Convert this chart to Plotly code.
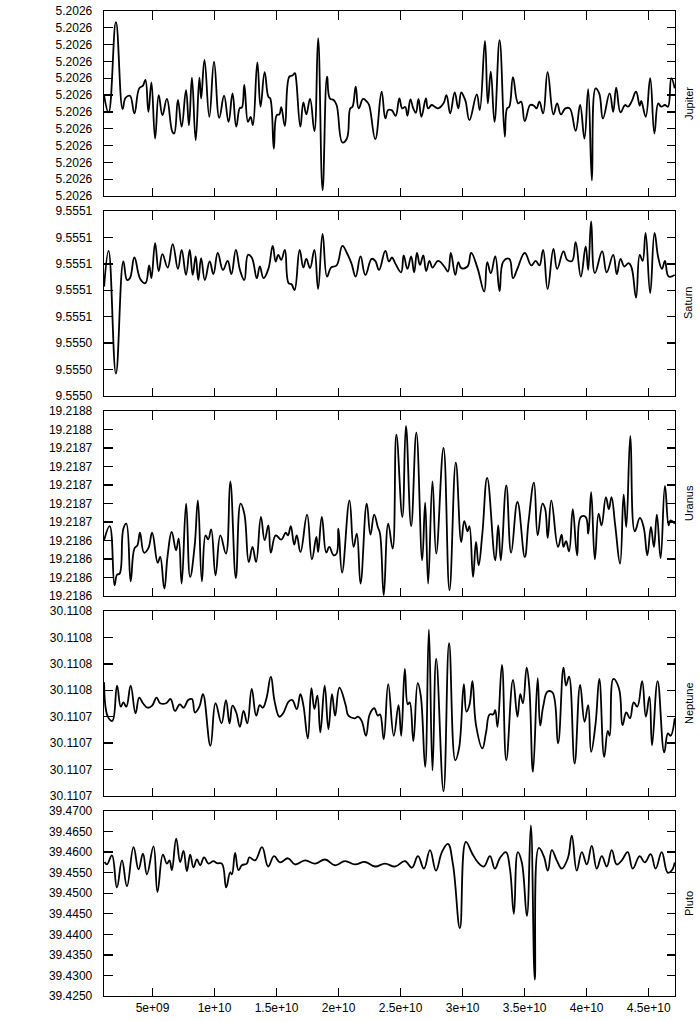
import numpy as np
import plotly.graph_objects as go

# time axis in units of 1e9 (seconds)
# Jupiter: (t [1e9], offset from 5.202595 AU in 1e-6 AU)
jupiter_points = [
    (1.10, 5.96), (1.46, 4.97), (2.05, 10.34), (2.59, 5.17), (2.83, 5.84), (3.18, 5.96), (3.54, 4.91),
    (3.93, 6.40), (4.23, 6.56), (4.43, 6.90), (4.67, 5.01), (4.91, 6.76), (5.21, 3.42), (5.50, 6.00),
    (5.80, 4.81), (6.16, 5.77), (6.60, 3.82), (6.75, 3.72), (7.05, 5.71), (7.35, 4.12), (7.70, 6.30),
    (7.94, 4.21), (8.18, 7.04), (8.48, 3.32), (8.78, 7.04), (8.92, 5.80), (9.19, 8.09), (9.58, 4.71),
    (9.96, 7.99), (10.38, 4.65), (10.77, 5.96), (11.13, 4.41), (11.45, 6.10), (11.75, 4.12), (12.05, 5.25),
    (12.20, 5.25), (12.40, 6.60), (12.70, 4.41), (12.91, 4.71), (13.09, 4.21), (13.45, 7.95), (13.71, 5.31),
    (14.04, 7.36), (14.34, 5.90), (14.49, 5.80), (14.78, 2.82), (15.02, 4.81), (15.23, 4.85), (15.38, 5.29),
    (15.67, 4.17), (16.03, 7.10), (16.27, 7.16), (16.48, 7.30), (16.57, 7.00), (16.92, 4.12), (17.16, 5.57),
    (17.40, 4.85), (17.70, 5.77), (18.05, 3.86), (18.35, 9.38), (18.71, 0.34), (19.07, 7.10), (19.30, 5.80),
    (19.60, 5.71), (19.84, 5.41), (20.31, 3.18), (20.67, 3.42), (20.94, 5.21), (21.12, 5.31), (21.38, 6.50),
    (21.62, 5.21), (21.98, 5.77), (22.28, 5.61), (22.46, 5.41), (22.96, 3.38), (23.47, 6.20), (23.77, 4.61),
    (24.00, 5.11), (24.30, 5.09), (24.60, 4.77), (24.90, 5.80), (25.13, 5.21), (25.37, 5.29), (25.55, 4.77),
    (25.79, 5.75), (26.02, 5.21), (26.23, 4.95), (26.44, 5.77), (26.68, 4.71), (27.04, 5.80), (27.21, 5.21),
    (27.51, 5.41), (27.75, 5.31), (28.02, 5.21), (28.46, 5.51), (28.70, 6.00), (29.00, 4.91), (29.36, 6.16),
    (29.65, 5.21), (29.89, 6.16), (30.10, 5.90), (30.25, 5.61), (30.55, 4.51), (31.14, 6.04), (31.38, 5.11),
    (31.80, 9.22), (32.03, 5.51), (32.27, 7.40), (32.57, 4.41), (32.98, 9.26), (33.40, 3.52), (33.58, 5.21),
    (33.76, 5.31), (34.06, 7.06), (34.47, 5.51), (34.71, 5.61), (35.01, 4.45), (35.45, 5.41), (35.75, 5.37),
    (35.96, 5.21), (36.19, 5.61), (36.49, 4.91), (36.85, 7.36), (37.32, 4.85), (37.62, 5.51), (37.92, 4.85),
    (38.28, 5.21), (38.63, 5.21), (39.11, 3.88), (39.47, 5.41), (39.82, 3.42), (40.12, 6.36), (40.42, 0.93),
    (40.72, 6.40), (41.01, 6.10), (41.31, 4.61), (41.85, 6.10), (42.14, 5.01), (42.38, 6.44), (42.73, 4.97),
    (43.09, 5.41), (43.33, 5.31), (43.62, 5.61), (43.98, 6.20), (44.28, 5.37), (44.40, 5.65), (44.76, 4.71),
    (45.12, 7.00), (45.46, 3.72), (45.77, 5.51), (46.00, 5.31), (46.31, 5.41), (46.55, 5.31), (46.82, 7.00),
    (47.10, 6.40),
]

# Saturn: offset from 9.5550 AU in units of 2e-5 AU
saturn_points = [
    (1.10, 4.14), (1.46, 5.49), (2.05, 0.85), (2.65, 5.09), (2.95, 4.39), (3.18, 4.46), (3.54, 5.24),
    (4.02, 4.42), (4.43, 4.27), (4.73, 4.94), (4.91, 4.46), (5.21, 5.78), (5.50, 4.73), (5.80, 5.37),
    (6.22, 4.86), (6.63, 5.75), (7.05, 4.81), (7.35, 5.53), (7.70, 4.58), (8.00, 5.53), (8.24, 4.58),
    (8.48, 5.28), (8.69, 4.39), (8.92, 5.22), (9.22, 4.39), (9.61, 5.09), (9.91, 4.61), (10.26, 5.41),
    (10.68, 4.77), (11.06, 5.11), (11.36, 4.61), (11.72, 5.53), (12.05, 4.77), (12.40, 4.39), (12.70, 5.34),
    (13.00, 5.24), (13.41, 4.46), (13.65, 4.90), (13.95, 4.46), (14.34, 4.81), (14.69, 5.68), (14.93, 5.09),
    (15.14, 5.34), (15.38, 5.15), (15.67, 5.53), (15.97, 4.27), (16.21, 4.23), (16.45, 4.01), (16.86, 5.53),
    (17.16, 4.86), (17.40, 5.19), (17.70, 4.84), (18.05, 5.53), (18.35, 4.05), (18.71, 6.13), (19.07, 4.52),
    (19.39, 4.86), (19.84, 4.94), (20.31, 5.68), (20.67, 5.41), (21.03, 5.03), (21.38, 4.52), (21.77, 5.28),
    (22.16, 4.58), (22.67, 5.19), (22.96, 5.11), (23.26, 4.77), (23.77, 5.49), (24.06, 5.09), (24.30, 5.24),
    (24.60, 4.99), (25.04, 4.68), (25.25, 5.32), (25.55, 4.81), (25.85, 5.28), (26.09, 4.68), (26.32, 5.41),
    (26.56, 4.96), (26.83, 5.32), (27.06, 4.73), (27.33, 5.11), (27.57, 4.86), (28.02, 5.11), (28.52, 4.90),
    (28.82, 4.71), (29.05, 5.41), (29.41, 4.58), (29.65, 5.06), (29.89, 4.84), (30.39, 4.90), (30.69, 5.41),
    (31.20, 4.84), (31.74, 3.95), (31.98, 5.06), (32.27, 4.65), (32.63, 5.28), (32.98, 3.97), (33.28, 5.09),
    (33.76, 5.19), (34.06, 4.46), (34.41, 4.81), (35.01, 5.41), (35.54, 4.94), (35.89, 5.11), (36.19, 4.94),
    (36.49, 5.53), (36.85, 4.05), (37.32, 5.57), (37.62, 4.81), (38.13, 5.47), (38.43, 5.15), (38.82, 5.11),
    (39.11, 5.82), (39.53, 4.52), (39.92, 5.66), (40.12, 4.77), (40.36, 6.61), (40.66, 4.65), (41.25, 5.47),
    (41.61, 4.68), (42.14, 5.34), (42.43, 4.61), (42.73, 5.19), (43.03, 4.90), (43.38, 5.03), (43.62, 4.86),
    (43.98, 3.72), (44.28, 5.34), (44.51, 5.11), (44.75, 6.17), (45.12, 3.89), (45.47, 6.17), (45.77, 5.24),
    (46.07, 4.81), (46.31, 5.11), (46.61, 4.52), (47.10, 4.58),
]

# Uranus: offset from 19.21858 AU in units of 2e-5 AU
uranus_points = [
    (1.10, 3.01), (1.55, 3.78), (1.94, 0.58), (2.14, 1.15), (2.35, 1.21), (2.65, 3.64), (2.89, 3.91),
    (3.24, 0.79), (3.54, 2.56), (3.78, 2.74), (3.99, 3.42), (4.32, 2.34), (4.67, 2.59), (4.97, 3.42),
    (5.42, 1.80), (5.62, 2.11), (5.95, 0.40), (6.22, 2.20), (6.55, 3.46), (6.90, 2.47), (7.11, 3.10),
    (7.35, 0.67), (7.71, 4.99), (8.03, 1.03), (8.39, 2.65), (8.66, 5.17), (8.98, 0.79), (9.28, 3.28),
    (9.49, 3.06), (9.73, 3.60), (10.08, 1.12), (10.47, 3.28), (10.92, 2.29), (11.27, 6.20), (11.72, 0.97),
    (12.10, 4.99), (12.40, 4.45), (12.76, 1.84), (13.06, 2.65), (13.35, 1.84), (13.74, 4.27), (14.04, 3.01),
    (14.34, 3.82), (14.54, 2.34), (14.93, 3.28), (15.38, 3.05), (15.74, 3.42), (15.92, 3.28), (16.15, 3.78),
    (16.42, 2.78), (16.63, 3.28), (16.93, 2.38), (17.46, 4.40), (17.85, 1.98), (18.21, 3.19), (18.35, 2.38),
    (18.65, 4.27), (19.01, 2.34), (19.25, 2.65), (19.60, 2.20), (19.84, 2.29), (19.99, 3.64), (20.28, 1.26),
    (20.88, 5.17), (21.21, 2.65), (21.47, 3.37), (21.77, 0.67), (22.27, 4.99), (22.57, 3.32), (22.87, 4.40),
    (23.16, 3.73), (23.34, 3.37), (23.64, 0.04), (24.00, 3.91), (24.36, 2.56), (24.66, 8.72), (25.14, 4.27),
    (25.43, 9.19), (25.85, 3.78), (26.27, 8.83), (26.74, 1.93), (26.98, 5.05), (27.22, 0.67), (27.57, 6.20),
    (27.87, 2.29), (28.46, 8.00), (28.94, 0.31), (29.45, 7.21), (29.89, 2.92), (30.13, 4.04), (30.40, 3.50),
    (30.55, 3.78), (30.84, 1.03), (31.08, 2.92), (31.29, 1.66), (31.59, 3.37), (31.98, 6.38), (32.63, 1.93),
    (32.87, 3.82), (33.08, 1.93), (33.52, 5.98), (33.91, 2.34), (34.42, 5.08), (35.01, 2.11), (35.31, 4.00),
    (35.75, 6.13), (36.05, 3.28), (36.44, 4.99), (36.65, 4.72), (36.86, 3.14), (37.15, 5.17), (37.69, 2.65),
    (37.98, 3.32), (38.13, 2.65), (38.34, 2.96), (38.58, 2.41), (38.88, 4.69), (39.23, 2.20), (39.53, 4.27),
    (39.92, 4.27), (40.13, 3.37), (40.36, 5.62), (40.66, 1.98), (40.96, 4.45), (41.20, 3.82), (41.55, 5.35),
    (41.79, 4.69), (42.00, 5.35), (42.30, 3.82), (42.69, 1.75), (42.98, 5.48), (43.19, 3.73), (43.52, 8.65),
    (43.88, 3.50), (44.29, 4.22), (44.59, 3.73), (44.89, 2.20), (45.18, 3.73), (45.42, 2.65), (45.66, 4.40),
    (45.96, 2.05), (46.31, 5.95), (46.61, 3.82), (46.76, 4.09), (47.10, 3.91),
]

# Neptune: offset from 30.11068 AU in units of 2e-5 AU
neptune_points = [
    (1.10, 4.30), (1.40, 3.00), (1.76, 2.84), (2.14, 4.18), (2.44, 3.38), (2.65, 3.54), (2.89, 3.38),
    (3.24, 4.18), (3.63, 3.13), (3.93, 3.72), (4.23, 3.51), (4.61, 3.34), (4.97, 3.42), (5.33, 3.72),
    (5.62, 3.51), (6.10, 3.51), (6.46, 3.67), (6.81, 3.22), (7.20, 3.47), (7.50, 3.34), (7.88, 3.63),
    (8.18, 3.67), (8.42, 3.16), (8.78, 3.38), (9.07, 3.85), (9.67, 1.90), (10.08, 3.51), (10.56, 2.75),
    (10.92, 3.63), (11.21, 2.75), (11.45, 3.42), (11.75, 3.16), (12.05, 2.62), (12.34, 3.22), (12.64, 2.75),
    (13.00, 4.05), (13.36, 3.04), (13.65, 3.44), (13.89, 3.34), (14.19, 3.70), (14.54, 4.52), (14.84, 3.59),
    (15.23, 3.00), (15.53, 3.13), (15.97, 3.57), (16.27, 3.63), (16.63, 3.29), (16.92, 3.85), (17.16, 3.44),
    (17.52, 2.18), (17.81, 4.08), (18.05, 3.29), (18.29, 3.80), (18.53, 2.41), (18.88, 4.18), (19.18, 2.53),
    (19.47, 3.85), (19.72, 3.04), (20.07, 4.10), (20.58, 3.42), (20.79, 3.04), (21.32, 2.94), (21.56, 3.00),
    (21.86, 2.84), (22.21, 2.28), (22.51, 3.09), (22.87, 3.32), (23.16, 3.04), (23.34, 3.09), (23.64, 2.15),
    (24.00, 4.23), (24.45, 2.28), (24.83, 3.44), (25.05, 2.28), (25.34, 4.81), (25.58, 3.47), (25.73, 3.54),
    (26.03, 2.08), (26.38, 4.27), (26.62, 3.82), (26.98, 1.10), (27.28, 6.29), (27.57, 0.97), (27.87, 5.19),
    (28.46, 0.18), (28.91, 5.78), (29.41, 1.35), (29.71, 1.80), (30.10, 4.23), (30.31, 3.19), (30.55, 3.44),
    (30.79, 4.35), (31.08, 2.68), (31.59, 1.80), (31.89, 2.41), (32.18, 3.09), (32.48, 3.09), (32.63, 3.25),
    (32.81, 2.62), (33.17, 4.96), (33.52, 1.35), (34.06, 4.39), (34.42, 3.00), (34.65, 3.85), (34.86, 3.51),
    (35.16, 4.86), (35.37, 4.14), (35.67, 0.91), (36.05, 4.46), (36.25, 2.66), (36.49, 3.38), (36.85, 3.95),
    (37.24, 3.92), (37.69, 1.99), (38.13, 4.86), (38.34, 4.18), (38.58, 4.52), (39.03, 1.23), (39.47, 4.20),
    (39.83, 2.81), (40.12, 3.44), (40.36, 1.67), (40.72, 2.75), (41.02, 4.43), (41.41, 1.48), (41.70, 2.46),
    (41.85, 2.28), (42.15, 4.43), (42.60, 4.08), (42.89, 2.68), (43.19, 3.16), (43.49, 2.94), (43.79, 3.54),
    (44.08, 3.38), (44.47, 4.35), (44.77, 3.00), (45.06, 3.76), (45.27, 1.92), (45.72, 4.35), (46.25, 1.65),
    (46.55, 2.37), (46.76, 2.28), (47.10, 2.94),
]

# Pluto: (t [1e9], semi-major axis in AU)
pluto_points = [
    (1.14, 39.4576), (1.33, 39.4570), (1.73, 39.4592), (2.13, 39.4514), (2.54, 39.4580), (2.94, 39.4517),
    (3.47, 39.4612), (3.87, 39.4558), (4.23, 39.4596), (4.55, 39.4546), (5.08, 39.4614), (5.40, 39.4503),
    (5.84, 39.4594), (6.16, 39.4572), (6.37, 39.4580), (6.56, 39.4556), (6.91, 39.4633), (7.23, 39.4576),
    (7.50, 39.4603), (7.77, 39.4554), (8.04, 39.4594), (8.30, 39.4563), (8.58, 39.4582), (8.84, 39.4568),
    (9.16, 39.4587), (9.51, 39.4572), (9.91, 39.4578), (10.19, 39.4573), (10.59, 39.4572), (10.94, 39.4514),
    (11.26, 39.4551), (11.40, 39.4546), (11.66, 39.4598), (11.93, 39.4556), (12.20, 39.4568), (12.60, 39.4572),
    (12.81, 39.4587), (13.27, 39.4580), (13.83, 39.4612), (14.32, 39.4565), (14.80, 39.4590), (15.28, 39.4575),
    (15.93, 39.4585), (16.49, 39.4570), (17.30, 39.4580), (18.10, 39.4572), (18.91, 39.4582), (19.71, 39.4568),
    (20.52, 39.4578), (21.32, 39.4570), (22.13, 39.4576), (22.94, 39.4565), (23.74, 39.4572), (24.55, 39.4565),
    (25.35, 39.4578), (25.91, 39.4562), (26.40, 39.4590), (26.88, 39.4560), (27.37, 39.4605), (27.85, 39.4555),
    (28.33, 39.4600), (28.81, 39.4620), (29.22, 39.4570), (29.78, 39.4415), (30.26, 39.4625), (30.75, 39.4598),
    (31.23, 39.4575), (31.71, 39.4565), (32.20, 39.4590), (32.60, 39.4560), (33.00, 39.4585), (33.49, 39.4600),
    (33.81, 39.4560), (34.13, 39.4450), (34.45, 39.4600), (34.77, 39.4575), (35.18, 39.4445), (35.50, 39.4665),
    (35.82, 39.4290), (36.14, 39.4610), (36.54, 39.4590), (36.87, 39.4555), (37.19, 39.4605), (37.59, 39.4580),
    (37.99, 39.4560), (38.48, 39.4585), (38.80, 39.4640), (39.20, 39.4555), (39.61, 39.4600), (40.01, 39.4570),
    (40.41, 39.4615), (40.81, 39.4560), (41.22, 39.4590), (41.62, 39.4565), (42.02, 39.4605), (42.42, 39.4570),
    (42.83, 39.4580), (43.31, 39.4600), (43.71, 39.4560), (44.28, 39.4590), (44.68, 39.4575), (45.16, 39.4595),
    (45.56, 39.4560), (46.05, 39.4600), (46.53, 39.4550), (46.85, 39.4555), (47.10, 39.4575),
]

planet_names = ["Jupiter", "Saturn", "Uranus", "Neptune", "Pluto"]
# (base value, unit of offsets, tick start, tick step, number of ticks)
axis_specs = [
    (5.202595, 1e-6, 5.202595, 1e-6, 12),
    (9.5550, 2e-5, 9.5550, 2e-5, 8),
    (19.21858, 2e-5, 19.21858, 2e-5, 11),
    (30.11068, 2e-5, 30.11068, 2e-5, 8),
    (0.0, 1.0, 39.425, 0.005, 10),
]
x_tick_vals = [5e9, 1e10, 1.5e10, 2e10, 2.5e10, 3e10, 3.5e10, 4e10, 4.5e10]
x_tick_text = ["5e+09", "1e+10", "1.5e+10", "2e+10", "2.5e+10", "3e+10", "3.5e+10", "4e+10", "4.5e+10"]
x_range = [1.09e9, 47.12e9]

series = [jupiter_points, saturn_points, uranus_points, neptune_points, pluto_points]

W, H = 700, 1021
ml, mr, mt, mb = 104, 25, 11, 25
plot_h = H - mt - mb
panel_h, step_h = 185, 200

fig = go.Figure()
font = dict(family="Liberation Sans, Arial, sans-serif", size=12, color="black")
annotations = []
for i, (name, pts, spec) in enumerate(zip(planet_names, series, axis_specs)):
    base, unit, t0, dt, nt = spec
    t = np.array([p[0] for p in pts]) * 1e9
    y = base + np.array([p[1] for p in pts]) * unit
    xa = "x" if i == 0 else f"x{i+1}"
    ya = "y" if i == 0 else f"y{i+1}"
    fig.add_trace(go.Scatter(x=t, y=y, mode="lines", xaxis=xa, yaxis=ya,
                             line=dict(color="black", width=1.8, shape="spline", smoothing=1.2),
                             showlegend=False, hoverinfo="skip"))
    top = 1 - i * step_h / plot_h
    bot = top - panel_h / plot_h
    tmax = t0 + (nt - 1) * dt
    eps = dt * 1e-4
    common = dict(showline=True, linecolor="black", linewidth=1.3, mirror="ticks",
                  ticks="inside", ticklen=8.5, tickwidth=1.3, tickcolor="black",
                  showgrid=False, zeroline=False, tickfont=font)
    ykey = "yaxis" if i == 0 else f"yaxis{i+1}"
    xkey = "xaxis" if i == 0 else f"xaxis{i+1}"
    fig.layout[ykey] = dict(domain=[bot, top], anchor=xa, range=[t0 - eps, tmax + eps],
                            tickmode="array", tickvals=[t0 + k * dt for k in range(nt)],
                            tickformat=".4f", ticklabelstandoff=8, **common)
    xd = dict(domain=[0, 1], anchor=ya, range=x_range, tickmode="array",
              tickvals=x_tick_vals, ticktext=x_tick_text,
              showticklabels=(i == 4), ticklabelstandoff=0, **common)
    if i > 0:
        xd["matches"] = "x"
    fig.layout[xkey] = xd
    annotations.append(dict(text=name, xref="paper", yref="paper", x=1 + 13.5 / (W - ml - mr),
                            y=(top + bot) / 2, xanchor="center", yanchor="middle",
                            textangle=-90, showarrow=False,
                            font=dict(family="Liberation Sans, Arial, sans-serif", size=11, color="black")))

fig.update_layout(width=W, height=H, margin=dict(l=ml, r=mr, t=mt, b=mb, autoexpand=False),
                  paper_bgcolor="white", plot_bgcolor="white", annotations=annotations,
                  font=font, showlegend=False)
fig.write_html("out.html", config={"displayModeBar": False, "staticPlot": True},
               post_script="document.body.style.margin='0';document.body.style.overflow='hidden';")
